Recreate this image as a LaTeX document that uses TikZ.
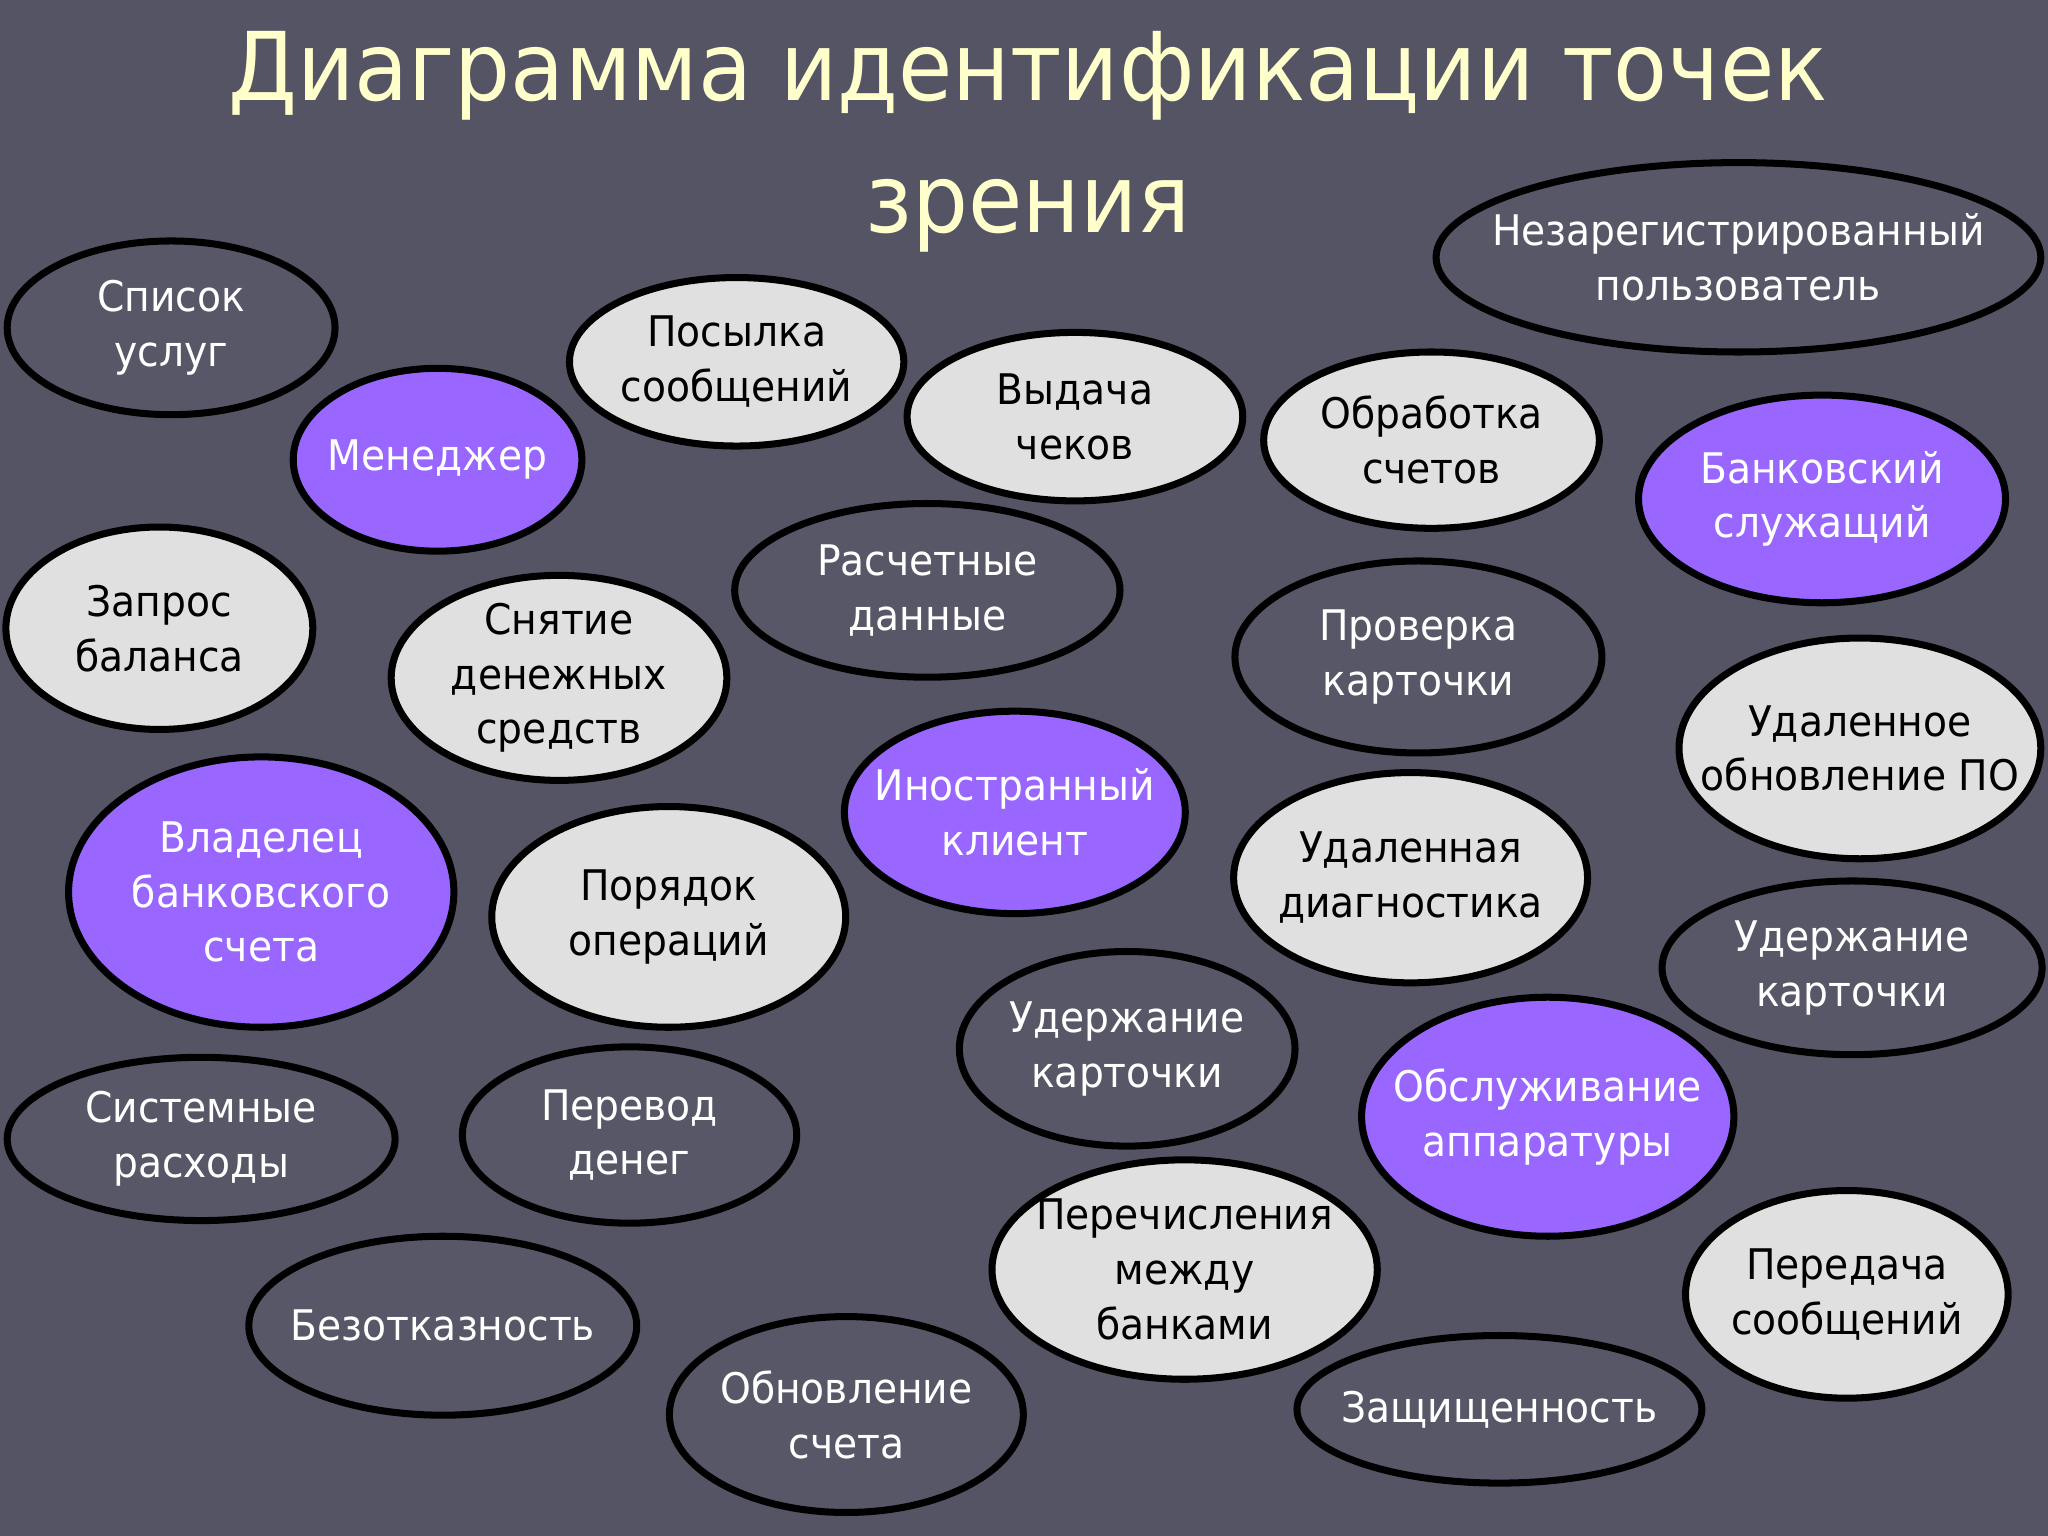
\documentclass[tikz,border=0pt]{standalone}
\usepackage{fontspec}
\setmainfont{DejaVu Sans}[FakeStretch=0.93]
\usetikzlibrary{shapes.geometric}

\definecolor{slidebg}{RGB}{85,84,100}
\definecolor{viewdark}{RGB}{88,87,104}
\definecolor{viewlight}{RGB}{224,224,224}
\definecolor{viewpurple}{RGB}{153,102,255}
\definecolor{titlecol}{RGB}{255,255,204}

\begin{document}
\begin{tikzpicture}[x=0.013061cm, y=-0.013061cm,
  view/.style={ellipse, draw=black, line width=2pt, align=center, inner xsep=-1.2cm, inner ysep=-0.4cm, font=\fontsize{12}{15.6}\selectfont},
  dark/.style={view, fill=viewdark, text=white},
  light/.style={view, fill=viewlight, text=black},
  actor/.style={view, fill=viewpurple, text=white}]

	\fill[slidebg] (0,0) rectangle (1568,1176);
	\useasboundingbox (0,0) rectangle (1568,1176);

	\node[text=titlecol, font=\fontsize{27}{37.5}\selectfont, align=center, anchor=base] (title) at (787,178) {Диаграмма идентификации точек\\зрения};

	\foreach \px/\py/\w/\h/\kind/\name/\txt in {
		131/251/251/133/dark/uslugi/Список\\услуг,
		335/352/221/140/actor/manager/Менеджер,
		564/277/256/129/light/posylka/Посылка\\сообщений,
		823/319/257/129/light/cheki/Выдача\\чеков,
		1331/197/463/145/dark/unreg/Незарегистрированный\\пользователь,
		1096/337/257/135/light/scheta/Обработка\\счетов,
		1395/382/281/159/actor/clerk/Банковский\\служащий,
		122/481/235/155/light/balans/Запрос\\баланса,
		428/519/257/157/light/snyatie/Снятие\\денежных\\средств,
		710/452/295/133/dark/raschet/Расчетные\\данные,
		1086/503/281/147/dark/proverka/Проверка\\карточки,
		1424/573/277/169/light/updatepo/Удаленное\\обновление ПО,
		200/683/295/207/actor/owner/Владелец\\банковского\\счета,
		512/702/271/169/light/poryadok/Порядок\\операций,
		777/622/261/155/actor/foreign/Иностранный\\клиент,
		1080/672/271/161/light/diag/Удаленная\\диагностика,
		1418/741/291/133/dark/holdright/Удержание\\карточки,
		863/803/257/149/dark/holdmid/Удержание\\карточки,
		154/872/297/125/dark/rashody/Системные\\расходы,
		482/869/256/135/dark/perevod/Перевод\\денег,
		1185/855/285/183/actor/service/Обслуживание\\аппаратуры,
		907/972/295/168/light/mezhbank/Перечисления\\между\\банками,
		339/1015/297/137/dark/bezotkaz/Безотказность,
		648/1083/271/150/dark/obnovl/Обновление\\счета,
		1148/1079/310/113/dark/zashch/Защищенность,
		1414/991/247/159/light/peredacha/Передача\\сообщений}
	{
		\node[\kind, minimum width=\w*0.013061cm, minimum height=\h*0.013061cm] (\name) at (\px,\py) {\txt};
	}

\end{tikzpicture}
\end{document}
